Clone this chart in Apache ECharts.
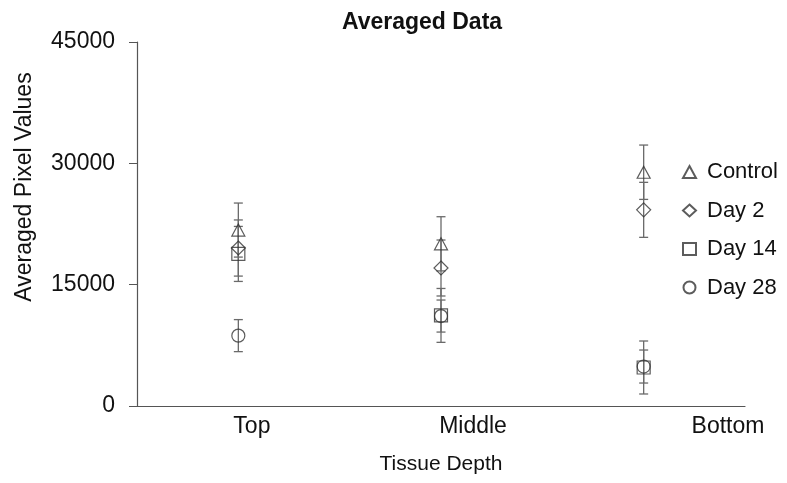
<!DOCTYPE html>
<html>
<head>
<meta charset="utf-8">
<script src="https://cdn.jsdelivr.net/npm/echarts@6/dist/echarts.min.js"></script>
<style>
html,body{margin:0;padding:0;background:#fff;}
#chart{width:787px;height:483px;}
</style>
</head>
<body>
<div id="chart"></div>
<script>
// ---- data ----
const categories = ['Top', 'Middle', 'Bottom'];
const seriesNames = ['Control', 'Day 2', 'Day 14', 'Day 28'];
const controlMean = [21750, 20050, 28900];
const controlErr  = [3340, 3350, 3360];
const day2Mean    = [19530, 17060, 24250];
const day2Err     = [3470, 3460, 3400];
const day14Mean   = [18800, 11200, 4760];
const day14Err    = [3400, 3330, 3275];
const day28Mean   = [8700, 11120, 4880];
const day28Err    = [1980, 1980, 2040];
const yTicks = [0, 15000, 30000, 45000];
// label placement shift (in category units) to mimic the original layout
const labelShift = [0.067, 0.158, 0.416];

const means = [controlMean, day2Mean, day14Mean, day28Mean];
const errs = [controlErr, day2Err, day14Err, day28Err];
const symbols = ['triangle', 'diamond', 'rect', 'circle'];
const symbolSizes = [[13, 12], 14, 13, 13];

const FONT = '"Liberation Sans", Arial, Helvetica, sans-serif';
const chart = echarts.init(document.getElementById('chart'));

const series = [];
// error bars
seriesNames.forEach((name, s) => {
  series.push({
    type: 'custom',
    name: name + ' err',
    silent: true,
    z: 1,
    clip: false,
    encode: { x: 0, y: [1, 2] },
    data: categories.map((c, i) => [i + 1, means[s][i] - errs[s][i], means[s][i] + errs[s][i]]),
    renderItem: function (params, api) {
      const x = api.value(0);
      const lo = api.coord([x, api.value(1)]);
      const hi = api.coord([x, api.value(2)]);
      const cap = 4.5;
      const st = { stroke: '#6a6a6a', lineWidth: 1.3 };
      return {
        type: 'group',
        children: [
          { type: 'line', shape: { x1: lo[0], y1: lo[1], x2: hi[0], y2: hi[1] }, style: st },
          { type: 'line', shape: { x1: lo[0] - cap, y1: lo[1], x2: lo[0] + cap, y2: lo[1] }, style: st },
          { type: 'line', shape: { x1: hi[0] - cap, y1: hi[1], x2: hi[0] + cap, y2: hi[1] }, style: st }
        ]
      };
    }
  });
});
// markers
seriesNames.forEach((name, s) => {
  series.push({
    type: 'scatter',
    name: name,
    z: 3,
    clip: false,
    symbol: symbols[s],
    symbolSize: symbolSizes[s],
    itemStyle: { color: 'rgba(255,255,255,0)', borderColor: '#333', borderWidth: 1.2 },
    emphasis: { disabled: true },
    data: categories.map((c, i) => [i + 1, means[s][i]])
  });
});

chart.setOption({
  animation: false,
  backgroundColor: '#ffffff',
  title: {
    text: 'Averaged Data',
    left: 417, top: 6, textAlign: 'center',
    textStyle: { fontFamily: FONT, fontWeight: 'bold', fontSize: 23, color: '#111' }
  },
  legend: {
    data: seriesNames,
    orient: 'vertical',
    left: 677, top: 156,
    itemWidth: 13, itemHeight: 12,
    itemGap: 16.5,
    textStyle: { fontFamily: FONT, fontSize: 22, color: '#111', padding: [0, 0, 0, 6] },
    selectedMode: false
  },
  grid: { left: 137, top: 42, width: 608, height: 364, containLabel: false },
  xAxis: {
    type: 'value', min: 0.5, max: 3.5,
    name: 'Tissue Depth', nameLocation: 'middle', nameGap: 48,
    nameTextStyle: { fontFamily: FONT, fontSize: 21, color: '#111' },
    axisLine: { show: true, lineStyle: { color: '#555', width: 1.2 } },
    axisTick: { show: false },
    splitLine: { show: false },
    axisLabel: {
      customValues: categories.map((c, i) => i + 1 + labelShift[i]),
      formatter: function (v) { return categories[Math.round(v) - 1]; },
      fontFamily: FONT, fontSize: 23, color: '#111', margin: 9
    }
  },
  yAxis: {
    type: 'value', min: yTicks[0], max: yTicks[yTicks.length - 1], interval: yTicks[1] - yTicks[0],
    name: 'Averaged Pixel Values', nameLocation: 'middle', nameGap: 101,
    nameTextStyle: { fontFamily: FONT, fontSize: 23, color: '#111', padding: [0, 0, 0, 74] },
    axisLine: { show: true, lineStyle: { color: '#555', width: 1.2 } },
    axisTick: { show: true, inside: false, length: 8, lineStyle: { color: '#555' } },
    splitLine: { show: false },
    axisLabel: {
      formatter: function (v) { return String(v); },
      fontFamily: FONT, fontSize: 23, color: '#111', margin: 22
    }
  },
  series: series
});
</script>
</body>
</html>
